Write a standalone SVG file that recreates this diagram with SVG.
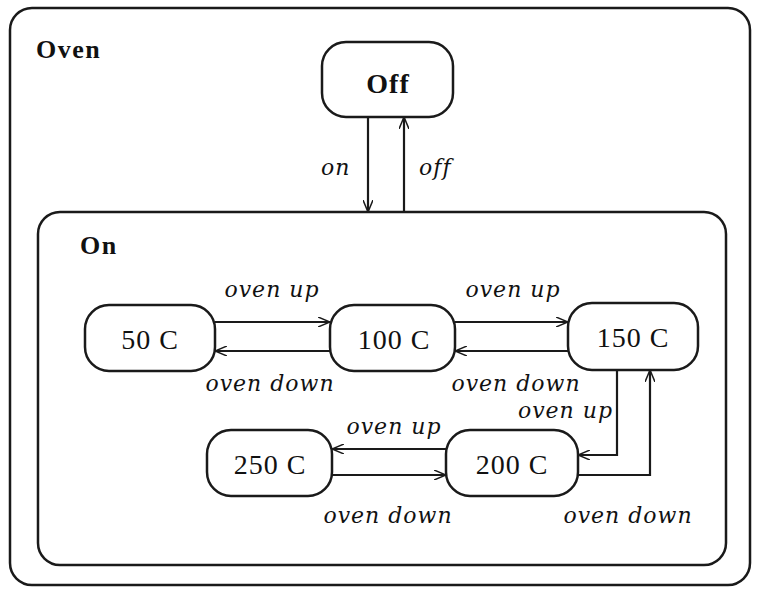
<svg xmlns="http://www.w3.org/2000/svg" width="760" height="589" viewBox="0 0 760 589">
<style>
.box{fill:#fff;stroke:#1a1a1a;stroke-width:2.5}
.node{fill:#fff;stroke:#1a1a1a;stroke-width:2.5}
.nt{font-family:'Liberation Serif','Times New Roman',serif;font-size:28px;fill:#111;text-anchor:middle;letter-spacing:1px}
.bt{font-family:'Liberation Serif','Times New Roman',serif;font-size:26px;font-weight:bold;fill:#111;letter-spacing:1.5px}
.lb{font-family:'DejaVu Serif',serif;font-style:italic;font-size:22px;fill:#111;letter-spacing:1px}
.c{fill:none;stroke:#1a1a1a;stroke-width:2.2}
</style>
<defs>
<marker id="ah" viewBox="0 0 12 10" refX="12" refY="5" markerWidth="12" markerHeight="10" markerUnits="userSpaceOnUse" orient="auto">
<path d="M0,0 L12,5 L0,10" fill="none" stroke="#1a1a1a" stroke-width="1.5"/>
</marker>
</defs>
<rect width="760" height="589" fill="#fff"/>
<g id="oven">
<rect class="box" x="10" y="8" width="740" height="577" rx="22"/>
<text class="bt" x="36" y="58">Oven</text>
</g>
<g id="off">
<rect class="node" x="322" y="42" width="131" height="75" rx="24"/>
<text class="nt" x="388" y="93" font-weight="bold">Off</text>
</g>
<g id="on">
<rect class="box" x="38" y="212" width="688" height="353" rx="22"/>
<text class="bt" x="80" y="254">On</text>
</g>
<g id="s50">
<rect class="node" x="85" y="305" width="130" height="66" rx="24"/>
<text class="nt" x="150" y="349">50 C</text>
</g>
<g id="s100">
<rect class="node" x="330" y="305" width="125" height="66" rx="24"/>
<text class="nt" x="394" y="349">100 C</text>
</g>
<g id="s150">
<rect class="node" x="568" y="303" width="130" height="67" rx="24"/>
<text class="nt" x="633" y="347">150 C</text>
</g>
<g id="s250">
<rect class="node" x="207" y="430" width="125" height="66" rx="24"/>
<text class="nt" x="270" y="474">250 C</text>
</g>
<g id="s200">
<rect class="node" x="446" y="430" width="132" height="66" rx="24"/>
<text class="nt" x="512" y="474">200 C</text>
</g>
<g id="connectors">
<path class="c" d="M368,117 V212" marker-end="url(#ah)"/>
<path class="c" d="M404,212 V117" marker-end="url(#ah)"/>
<path class="c" d="M215,322 H330" marker-end="url(#ah)"/>
<path class="c" d="M330,351 H215" marker-end="url(#ah)"/>
<path class="c" d="M455,322 H568" marker-end="url(#ah)"/>
<path class="c" d="M568,351 H455" marker-end="url(#ah)"/>
<path class="c" d="M617,370 V455 H578" marker-end="url(#ah)"/>
<path class="c" d="M578,475 H650 V370" marker-end="url(#ah)"/>
<path class="c" d="M446,449 H332" marker-end="url(#ah)"/>
<path class="c" d="M332,475 H446" marker-end="url(#ah)"/>
<text class="lb" x="321" y="175">on</text>
<text class="lb" x="419" y="175">off</text>
<text class="lb" x="272" y="297" text-anchor="middle">oven up</text>
<text class="lb" x="270" y="391" text-anchor="middle">oven down</text>
<text class="lb" x="513" y="297" text-anchor="middle">oven up</text>
<text class="lb" x="516" y="391" text-anchor="middle">oven down</text>
<text class="lb" x="613" y="418" text-anchor="end">oven up</text>
<text class="lb" x="628" y="523" text-anchor="middle">oven down</text>
<text class="lb" x="394" y="434" text-anchor="middle">oven up</text>
<text class="lb" x="388" y="523" text-anchor="middle">oven down</text>
</g>
</svg>
